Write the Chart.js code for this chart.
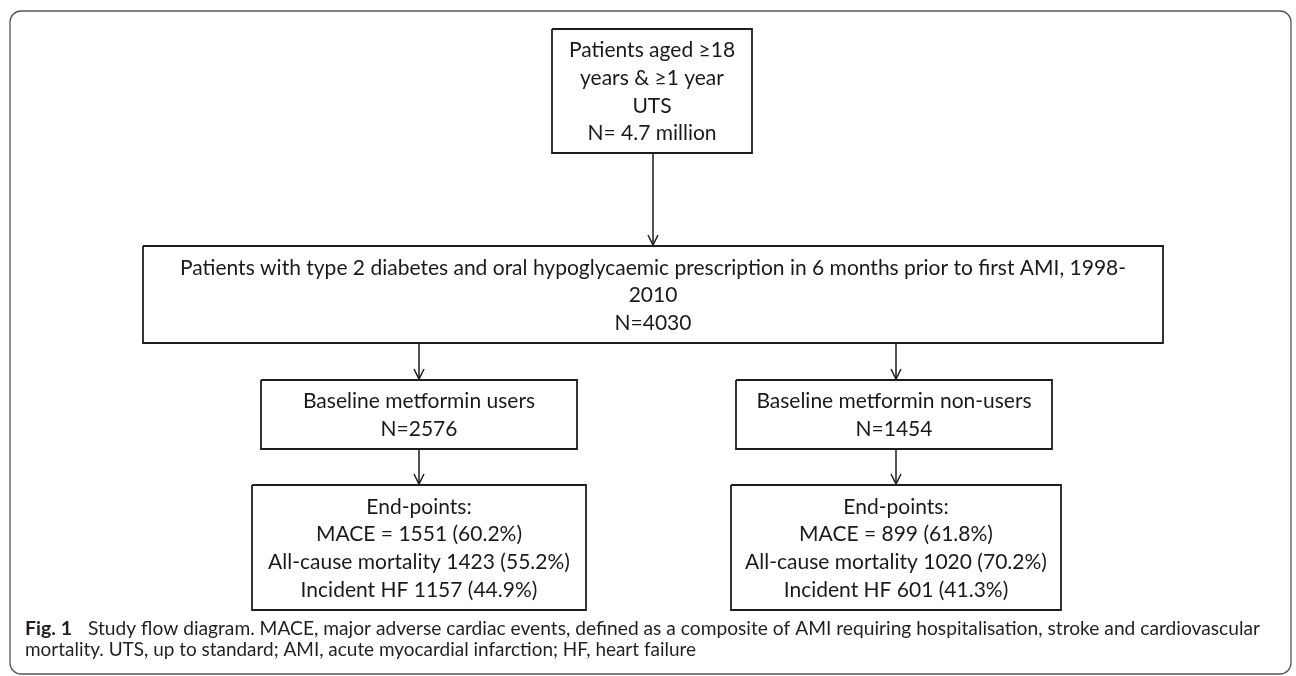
<!DOCTYPE html>
<html>
<head>
<meta charset="utf-8">
<script src="https://cdn.jsdelivr.net/npm/chart.js@4.4.1/dist/chart.umd.min.js"></script>
<style>
  html, body { margin: 0; padding: 0; background: #ffffff; }
  #wrap { width: 1296px; height: 676px; }
</style>
</head>
<body>
<div id="wrap"><canvas id="myChart" width="1296" height="676"></canvas></div>
<script>
// numbers of the flow
const totalPatients = '4.7 million';
const cohortN = 4030;
const groupNames = ['Baseline metformin users', 'Baseline metformin non-users'];
const groupN = [2576, 1454];
const maceN = [1551, 899];
const macePct = [60.2, 61.8];
const mortalityN = [1423, 1020];
const mortalityPct = [55.2, 70.2];
const hfN = [1157, 601];
const hfPct = [44.9, 41.3];

// box texts
const boxLines = [
    ['Patients aged \u226518', 'years & \u22651 year', 'UTS', 'N= ' + totalPatients],
    ['Patients with type 2 diabetes and oral hypoglycaemic prescription in 6 months prior to first AMI, 1998-', '2010', 'N=' + cohortN],
    [groupNames[0], 'N=' + groupN[0]],
    [groupNames[1], 'N=' + groupN[1]],
    ['End-points:', 'MACE = ' + maceN[0] + ' (' + macePct[0] + '%)', 'All-cause mortality ' + mortalityN[0] + ' (' + mortalityPct[0] + '%)', 'Incident HF ' + hfN[0] + ' (' + hfPct[0] + '%)'],
    ['End-points:', 'MACE = ' + maceN[1] + ' (' + macePct[1] + '%)', 'All-cause mortality ' + mortalityN[1] + ' (' + mortalityPct[1] + '%)', 'Incident HF ' + hfN[1] + ' (' + hfPct[1] + '%)']
];
const captionBold = 'Fig. 1';
const captionLines = [
    'Study flow diagram. MACE, major adverse cardiac events, defined as a composite of AMI requiring hospitalisation, stroke and cardiovascular',
    'mortality. UTS, up to standard; AMI, acute myocardial infarction; HF, heart failure'
];

// diagram layout, in axis units
const boxLeft   = [552, 143, 261, 736, 252, 731];
const boxRight  = [752, 1163, 577, 1052, 586, 1061];
const boxTop    = [29, 246, 380, 380, 485, 485];
const boxBottom = [153, 343, 449, 449, 610, 610];
// arrows: [from box, to box, x]
const arrows = [[0, 1, 653], [1, 2, 419], [1, 3, 896], [2, 4, 419], [3, 5, 896]];

const ctx = document.getElementById('myChart');

let datasets = [];
for (let i = 0; i < boxLeft.length; i++) {
    datasets.push({
        data: [
            {x: boxLeft[i], y: boxTop[i]}, {x: boxRight[i], y: boxTop[i]},
            {x: boxRight[i], y: boxBottom[i]}, {x: boxLeft[i], y: boxBottom[i]},
            {x: boxLeft[i], y: boxTop[i]}
        ],
        showLine: true,
        borderColor: '#1e1e1e',
        borderWidth: 1.8,
        borderJoinStyle: 'miter',
        pointRadius: 0,
        tension: 0
    });
}
for (let i = 0; i < arrows.length; i++) {
    let a = arrows[i];
    datasets.push({
        data: [{x: a[2], y: boxBottom[a[0]]}, {x: a[2], y: boxTop[a[1]]}],
        showLine: true,
        borderColor: '#1e1e1e',
        borderWidth: 1.5,
        pointRadius: 0
    });
}

const flowPlugin = {
    id: 'flow',
    beforeDraw(chart) {
        let c = chart.ctx;
        let x = chart.scales.x, y = chart.scales.y;
        c.save();
        c.strokeStyle = '#555555';
        c.lineWidth = 1.3;
        c.beginPath();
        c.roundRect(x.getPixelForValue(10), y.getPixelForValue(11),
            x.getPixelForValue(1291) - x.getPixelForValue(10),
            y.getPixelForValue(674) - y.getPixelForValue(11), 11);
        c.stroke();
        c.restore();
    },
    afterDatasetsDraw(chart) {
        let c = chart.ctx;
        let x = chart.scales.x, y = chart.scales.y;
        c.save();
        // arrow heads
        c.strokeStyle = '#1e1e1e';
        c.lineWidth = 1.5;
        for (let i = 0; i < arrows.length; i++) {
            let px = x.getPixelForValue(arrows[i][2]);
            let py = y.getPixelForValue(boxTop[arrows[i][1]]) - 1;
            c.beginPath();
            c.moveTo(px - 5, py - 10);
            c.lineTo(px, py);
            c.lineTo(px + 5, py - 10);
            c.stroke();
        }
        // box texts
        c.fillStyle = '#1a1a1a';
        c.font = '21px Lato';
        c.textAlign = 'center';
        c.textBaseline = 'middle';
        let lh = 27.6;
        for (let i = 0; i < boxLines.length; i++) {
            let lines = boxLines[i];
            let cx = x.getPixelForValue((boxLeft[i] + boxRight[i]) / 2);
            let cy = y.getPixelForValue((boxTop[i] + boxBottom[i]) / 2);
            let start = cy - (lines.length - 1) * lh / 2;
            for (let j = 0; j < lines.length; j++) {
                c.fillText(lines[j], cx, start + j * lh + 1);
            }
        }
        // caption
        c.textAlign = 'left';
        c.textBaseline = 'alphabetic';
        c.fillStyle = '#231f20';
        c.font = 'bold 19.5px Lato';
        c.fillText(captionBold, 25, 635);
        c.font = '19.5px Lato';
        c.fillText(captionLines[0], 88, 635, 1260 - 88);
        c.fillText(captionLines[1], 25, 656, 671);
        c.restore();
    }
};

new Chart(ctx, {
    type: 'scatter',
    data: { datasets: datasets },
    options: {
        responsive: false,
        animation: false,
        events: [],
        layout: { padding: 0 },
        plugins: { legend: { display: false }, tooltip: { enabled: false } },
        scales: {
            x: { type: 'linear', min: 0, max: 1296, display: false },
            y: { type: 'linear', min: 0, max: 676, reverse: true, display: false }
        }
    },
    plugins: [flowPlugin]
});
</script>
</body>
</html>
